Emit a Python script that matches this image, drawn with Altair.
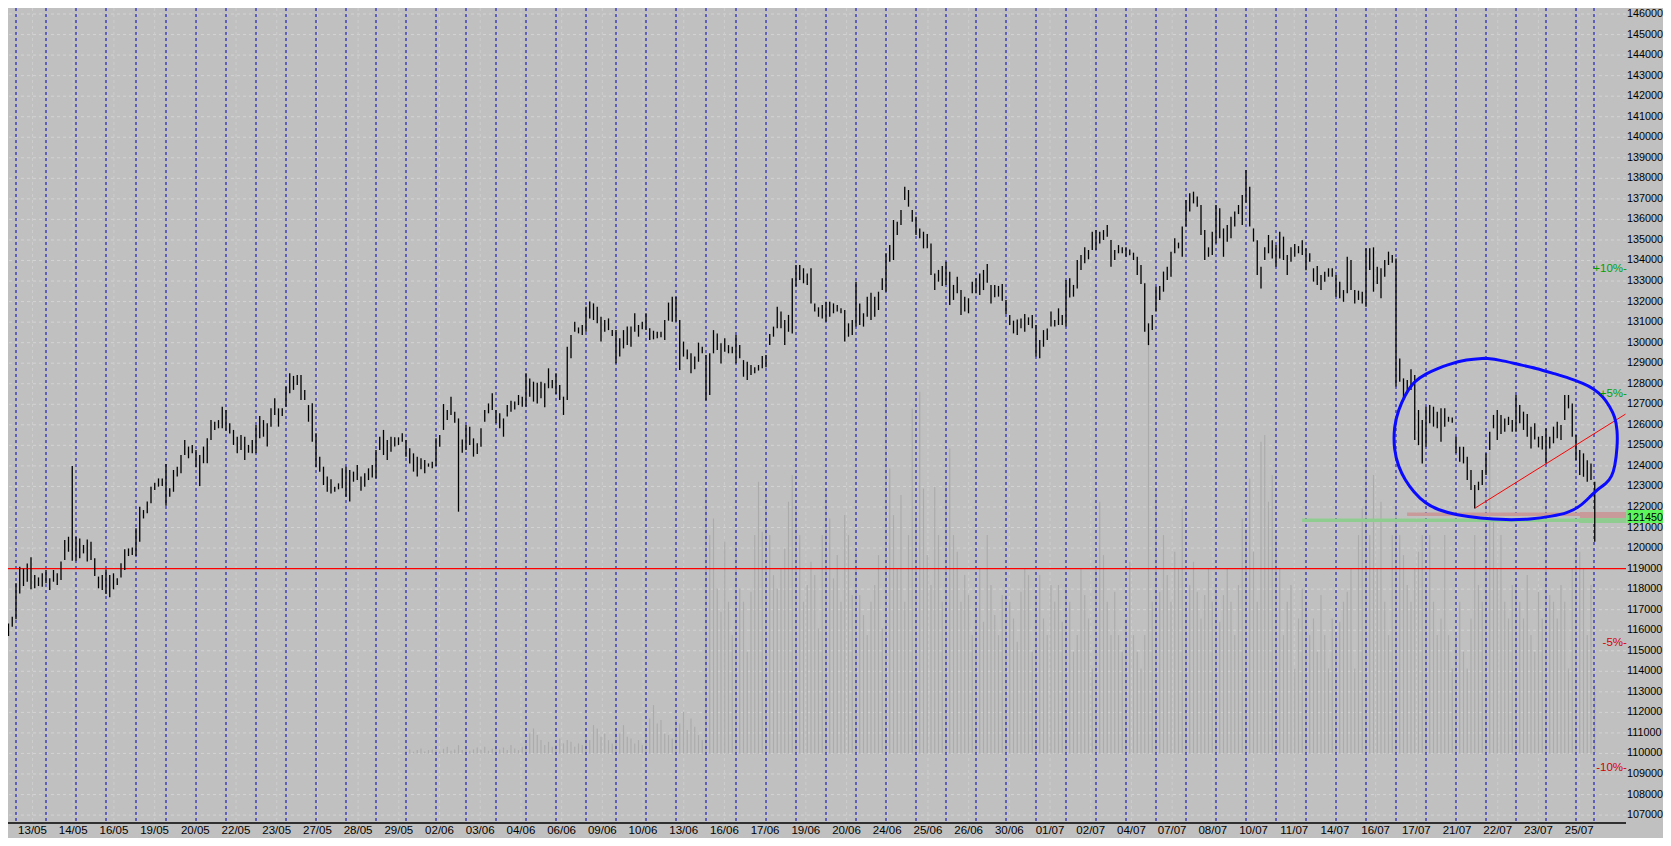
import altair as alt
import pandas as pd

# ---------------- data ----------------
# price bars (high / low), 8 bars per session, starting half a session before the 13/05 line
highs = [
    117300, 116580, 116330, 116660,
    118280, 119090, 119010, 119250, 119550, 118690, 118570, 118770,
    118930, 118530, 118930, 118770, 119340, 120390, 120550, 124000,
    120550, 120470, 120150, 120420, 120310, 119500, 118610, 118690,
    118960, 118690, 118770, 118530, 119260, 119940, 119980, 120030,
    120960, 122010, 121850, 122260, 122990, 123180, 123390, 123390,
    124090, 122910, 123800, 123960, 124530, 125260, 124940, 125020,
    124770, 124530, 124940, 125340, 126230, 126150, 126230, 126880,
    126720, 126070, 125750, 125420, 125500, 125420, 125020, 125260,
    125990, 126430, 126230, 126070, 126800, 127290, 126800, 126800,
    127860, 128510, 128380, 128430, 128430, 127700, 126960, 127050,
    125590, 124450, 123960, 123480, 123350, 122990, 123150, 123880,
    123960, 123800, 123720, 124040, 123480, 123640, 123880, 124040,
    124770, 125420, 125750, 125260, 125420, 125390, 125390, 125590,
    125260, 124860, 124610, 124450, 124370, 124290, 124120, 124200,
    125340, 125500, 127010, 126720, 127370, 126640, 126310, 125290,
    125990, 125910, 125340, 125100, 125830, 126720, 127040, 127530,
    126720, 126560, 126310, 126960, 127170, 127130, 127450, 127370,
    128510, 128260, 128100, 128050, 128100, 128020, 128750, 128180,
    128510, 127940, 127370, 129800, 130370, 131020, 130740, 130860,
    131750, 132000, 131910, 131750, 131260, 131100, 131180, 130610,
    130610, 130210, 130610, 130780, 130780, 131430, 130860, 131020,
    131430, 130700, 130580, 130530, 130530, 131100, 131950, 132240,
    132240, 131100, 130050, 129670, 129480, 129320, 130000, 129800,
    129400, 129480, 130610, 130450, 129970, 130210, 129880, 129800,
    130370, 129880, 129150, 129070, 128910, 128800, 128910, 129350,
    129400, 130420, 130780, 131750, 131510, 131100, 131350, 133130,
    133780, 133780, 133620, 133370, 133620, 131910, 131720, 131830,
    131990, 131990, 131910, 131830, 131670, 131590, 130940, 131100,
    132970, 131910, 131430, 132240, 132430, 132240, 132480, 133130,
    134350, 134750, 135970, 135890, 136460, 137590, 137430, 136460,
    136130, 135560, 135400, 135290, 134830, 133370, 133540, 133730,
    133940, 133450, 132810, 133210, 132560, 132240, 132160, 132970,
    133130, 133370, 133540, 133830, 132810, 132810, 132760, 132850,
    132080, 131340, 131070, 131130, 131180, 131390, 131230, 131340,
    130860, 130130, 130610, 130690, 131510, 131100, 131670, 131340,
    133050, 133130, 132810, 134020, 134270, 134640, 134510, 135400,
    135480, 135400, 135480, 135730, 135000, 134510, 134750, 134640,
    134640, 134540, 134380, 134180, 133780, 132890, 130940, 131340,
    132720, 132760, 133460, 133700, 134430, 135080, 134870, 135650,
    136940, 137270, 137350, 137110, 136700, 135480, 134640, 135400,
    136700, 136540, 135560, 135730, 136130, 136380, 136700, 137190,
    138400, 137590, 135560, 134990, 133700, 134640, 135240, 134990,
    134750, 135400, 135160, 134270, 134640, 134800, 134700, 134990,
    134590, 134350, 133620, 133730, 133290, 133450, 133620, 133620,
    133290, 132970, 132560, 134180, 134020, 132560, 132530, 132480,
    134590, 134590, 134640, 133700, 133620, 134020, 134430, 134270,
    134100, 129230, 128260, 128180, 128700, 128420, 126720, 126230,
    126880, 126960, 126880, 126640, 126800, 126800, 126390, 126360,
    125420, 124930, 124930, 124440, 123800, 123070, 123230, 123800,
    124610, 125660, 126480, 126720, 126480, 126310, 126390, 126230,
    127450, 126960, 126640, 126520, 125910, 126070, 125420, 125450,
    125830, 125420, 125910, 126150, 125990, 127450, 127450, 127040,
    125500, 124770, 124610, 124280, 124120, 123230,
]
lows = [
    116170, 115850, 115720, 116170,
    116530, 117790, 118150, 118360, 117990, 118040, 118150, 118120,
    118280, 117960, 118360, 118200, 118440, 119420, 119820, 119380,
    119380, 119500, 119740, 119340, 119420, 118640, 118040, 117960,
    117760, 117600, 117990, 118200, 118570, 118930, 119610, 119660,
    119610, 120310, 121440, 121690, 122180, 122830, 122990, 123020,
    122060, 122500, 122740, 123480, 123640, 124530, 124370, 124610,
    123930, 123020, 124130, 124130, 125260, 125750, 125830, 125830,
    125710, 125580, 125020, 124610, 124770, 124290, 124640, 124610,
    124610, 125340, 125420, 124940, 125910, 126480, 125910, 126430,
    126880, 127530, 127700, 127940, 127210, 127210, 126150, 125180,
    123930, 123720, 123070, 122740, 122660, 122740, 122860, 122910,
    122500, 122260, 123230, 123310, 122790, 122990, 123310, 123440,
    123390, 124770, 124530, 124290, 124690, 124940, 125020, 125180,
    124450, 124120, 123720, 123480, 123830, 123640, 123960, 123880,
    123990, 124930, 125750, 126230, 126480, 126100, 121770, 124640,
    124770, 125020, 124450, 124580, 124930, 126150, 126560, 126720,
    126070, 125830, 125420, 126400, 126640, 126750, 126960, 126880,
    126880, 127370, 127130, 127040, 127290, 126850, 127780, 127780,
    127500, 127210, 126480, 127210, 129240, 130530, 130450, 130370,
    130530, 131180, 131100, 130940, 130050, 130530, 130610, 130320,
    128990, 129320, 129720, 129880, 129800, 130530, 130290, 130650,
    130610, 130130, 130160, 130210, 130260, 130130, 131070, 131020,
    131020, 128670, 129320, 129190, 128510, 128700, 129070, 129480,
    127180, 127450, 129480, 129640, 128990, 129560, 129480, 129480,
    128990, 129240, 128340, 128180, 128420, 128510, 128640, 128750,
    128800, 129880, 130290, 130700, 130700, 129880, 130530, 130450,
    132730, 133050, 132890, 132810, 131910, 131510, 131260, 131180,
    131020, 131260, 131430, 131510, 131430, 130050, 130290, 130370,
    130780, 130860, 130780, 131260, 131100, 131260, 131590, 132560,
    132480, 133940, 134020, 135240, 135730, 136940, 136620, 135890,
    135240, 135080, 134590, 134590, 133290, 132560, 132970, 132760,
    132810, 131830, 132080, 132400, 131350, 131510, 131430, 132400,
    132400, 132320, 132560, 132920, 131910, 132210, 132240, 132040,
    131390, 130860, 130450, 130370, 130700, 130530, 130860, 130700,
    129320, 129240, 129800, 130130, 130780, 130780, 130860, 130860,
    130780, 132200, 132240, 132640, 133540, 133860, 134060, 134510,
    134510, 134830, 135000, 135160, 133700, 134020, 134350, 134350,
    134180, 134260, 134020, 133290, 132850, 130530, 129880, 130610,
    131510, 132080, 132480, 133050, 133210, 134350, 134590, 134180,
    135650, 136380, 136780, 136620, 135240, 134020, 134180, 134270,
    134830, 135080, 134180, 134910, 135080, 135650, 136260, 135730,
    136810, 135650, 134920, 133290, 132640, 134020, 134350, 134100,
    133700, 134100, 134020, 133290, 133940, 134180, 134350, 134270,
    133530, 133940, 132970, 132810, 132560, 132970, 133210, 133210,
    132240, 132160, 131990, 132400, 132560, 131910, 132080, 131910,
    131750, 133540, 132480, 132850, 132160, 133210, 133780, 133890,
    127860, 128100, 127210, 127530, 127690, 125260, 125010, 124120,
    124930, 126070, 125910, 125830, 125180, 125910, 126150, 126100,
    124610, 124200, 124120, 123310, 122820, 121930, 122820, 123070,
    123550, 124770, 125830, 125260, 125550, 125660, 125990, 125660,
    125660, 126070, 125750, 125420, 124850, 125290, 124900, 124800,
    124120, 124850, 125100, 125340, 125260, 126230, 126800, 125420,
    124280, 123550, 123470, 123230, 123310, 120310,
]
# volume (relative units), 8 per session from the 13th session on
volume = [
    8, 12, 5, 10, 15, 6, 10, 12,
    10, 6, 14, 20, 8, 12, 25, 10,
    15, 8, 12, 18, 10, 20, 8, 14,
    20, 12, 18, 10, 25, 15, 10, 20,
    30, 60, 75, 55, 40, 25, 35, 20,
    25, 45, 30, 40, 35, 20, 30, 25,
    55, 40, 85, 75, 50, 60, 40, 30,
    75, 60, 85, 50, 45, 30, 40, 25,
    70, 105, 145, 90, 100, 60, 55, 45,
    100, 90, 125, 70, 105, 80, 55, 40,
    790, 655, 705, 495, 425, 635, 455, 355,
    635, 495, 455, 305, 485, 655, 815, 665,
    795, 655, 535, 495, 555, 615, 755, 835,
    735, 655, 455, 505, 575, 535, 375, 655,
    795, 705, 525, 595, 455, 715, 655, 475,
    605, 475, 415, 355, 455, 505, 595, 375,
    1100, 855, 715, 555, 775, 455, 655, 1035,
    715, 1085, 795, 595, 505, 800, 655, 455,
    805, 915, 655, 605, 455, 535, 475, 355,
    455, 555, 395, 655, 505, 415, 355, 475,
    475, 455, 405, 335, 485, 555, 535, 305,
    475, 535, 405, 355, 505, 455, 505, 395,
    505, 455, 305, 355, 555, 475, 405, 255,
    555, 755, 595, 455, 355, 485, 355, 305,
    405, 575, 355, 305, 255, 355, 1265, 455,
    795, 485, 655, 535, 455, 605, 555, 735,
    455, 505, 575, 485, 405, 475, 555, 455,
    505, 395, 475, 555, 455, 355, 505, 705,
    675, 825, 605, 455, 935, 955, 755, 835,
    655, 555, 355, 455, 505, 255, 405, 495,
    455, 355, 405, 305, 475, 355, 255, 405,
    355, 395, 455, 485, 555, 255, 655, 735,
    885, 655, 835, 555, 755, 455, 355, 655,
    735, 655, 595, 505, 455, 555, 605, 655,
    505, 655, 455, 355, 405, 655, 355, 255,
    355, 455, 305, 255, 405, 655, 505, 455,
    805, 905, 705, 555, 655, 455, 405, 505,
    505, 455, 405, 535, 355, 305, 485, 405,
    775, 475, 455, 405, 505, 455, 255, 555,
    635, 605, 555, 355, 505, 205,
]
date_labels = ['13/05', '14/05', '16/05', '19/05', '20/05', '22/05', '23/05', '27/05',
               '28/05', '29/05', '02/06', '03/06', '04/06', '06/06', '09/06', '10/06',
               '13/06', '16/06', '17/06', '19/06', '20/06', '24/06', '25/06', '26/06',
               '30/06', '01/07', '02/07', '04/07', '07/07', '08/07', '10/07', '11/07',
               '14/07', '16/07', '17/07', '21/07', '22/07', '23/07', '25/07']
y_ticks = list(range(107000, 147000, 1000))
last_price = 121450
support = 119000
pct_levels = [0.10, 0.05, -0.05, -0.10]
pct_texts = ['+10%-', '+5%-', '-5%-', '-10%-']
# hand-drawn ellipse (session index, price)
ell_d = [48.97, 48.36, 47.69, 47.41, 47.02, 46.58, 46.30, 46.08, 45.93, 45.93, 46.08, 46.30,
         46.58, 46.97, 47.41, 48.02, 48.80, 49.69, 50.47, 51.24, 51.69, 52.13, 52.47, 52.69,
         53.02, 53.19, 53.30, 53.38, 53.38, 53.30, 53.13, 52.91, 52.58, 52.24, 51.80, 51.24,
         50.69, 50.02, 49.47, 48.97]
ell_p = [129236, 129188, 128912, 128749, 128506, 128100, 127451, 126721, 125909, 124773,
         123962, 123313, 122745, 122177, 121852, 121609, 121447, 121365, 121398, 121560,
         121690, 122014, 122501, 122826, 123150, 123475, 123962, 124936, 125747, 126396,
         126883, 127370, 127776, 128019, 128263, 128506, 128749, 128960, 129155, 129236]
trend_d = [48.63, 53.65]
trend_p = [121940, 126520]
# horizontal bands (start session, end session, low price, high price)
band_start = [46.37, 52.13, 42.87, 52.10]
band_end = [53.67, 53.67, 53.67, 53.67]
band_lo = [121560, 121450, 121270, 121220]
band_hi = [121730, 121760, 121440, 121450]
band_col = ['pink', 'pink', 'green', 'green']

# ---------------- layout ----------------
W, H = 1618, 815
PX_PER_DAY = 30.0
PX_PER_PRICE = 0.02054
X_DOM = [-8 / PX_PER_DAY, (W - 8) / PX_PER_DAY]
Y_DOM = [146000 - (H - 6) / PX_PER_PRICE, 146000 + 6 / PX_PER_PRICE]
VOL_BASE = 110000
VOL_SCALE = 16.23
FONT = 'Liberation Sans'

xs = alt.Scale(domain=X_DOM, nice=False, zero=False)
ys = alt.Scale(domain=Y_DOM, nice=False, zero=False)

bars = pd.DataFrame({'d': [(i - 4) / 8 for i in range(len(highs))], 'high': highs, 'low': lows})
vol = pd.DataFrame({'d': [13 + i / 8 for i in range(len(volume))], 'v': volume})
vol['base'] = VOL_BASE
vol['top'] = VOL_BASE + vol['v'] * VOL_SCALE
sessions = pd.DataFrame({'d': [float(k) for k in range(53)] + [52.6]})
labels = pd.DataFrame({'t': date_labels, 'd': [0.55 + 1.3567 * i for i in range(len(date_labels))]})
ticks = pd.DataFrame({'p': y_ticks, 't': [str(v) for v in y_ticks]})
ticks['d'] = X_DOM[1] + 1 / PX_PER_DAY
ell = pd.DataFrame({'d': ell_d, 'p': ell_p, 'o': list(range(len(ell_d)))})
trend = pd.DataFrame({'d': trend_d, 'p': trend_p})
bands = pd.DataFrame({'x1': band_start, 'x2': band_end, 'lo': band_lo, 'hi': band_hi, 'c': band_col})
pct = pd.DataFrame({'t': pct_texts, 'p': [last_price * (1 + v) for v in pct_levels],
                    'c': ['#00a000', '#00a000', '#d00000', '#d00000']})
pct['d'] = X_DOM[1] + 0.03
tag = pd.DataFrame({'x1': [X_DOM[1] + 0.5 / PX_PER_DAY], 'x2': [X_DOM[1] + 1.5],
                    'lo': [121220], 'hi': [121850], 'p': [last_price], 't': [str(last_price)]})
support_df = pd.DataFrame({'p': [support]})

X = lambda f: alt.X(f, scale=xs, axis=None)
Y = lambda f: alt.Y(f, scale=ys, axis=None)

hgrid = alt.Chart(ticks).mark_rule(color='#d3d3d3', strokeDash=[3, 3], strokeWidth=1).encode(
    y=Y('p:Q'))

vgrid = alt.Chart(labels).mark_rule(color='#cdcdcd', strokeDash=[3, 3], strokeWidth=1).encode(
    x=X('d:Q'))

vol_layer = alt.Chart(vol).mark_rule(color='#ababab', strokeWidth=1.2, clip=True).encode(
    x=X('d:Q'), y=Y('base:Q'), y2='top:Q')

session_lines = alt.Chart(sessions).mark_rule(color='#0000b4', strokeDash=[3, 3], strokeWidth=1,
                                              clip=True).encode(x=X('d:Q'))

band_layer = alt.Chart(bands).mark_rect(clip=True).encode(
    x=X('x1:Q'), x2='x2:Q', y=Y('lo:Q'), y2='hi:Q',
    color=alt.Color('c:N', scale=alt.Scale(domain=['pink', 'green'], range=['#c89a9a', '#8fcc8f']),
                    legend=None))

support_layer = alt.Chart(support_df).mark_rule(color='#ff0000', strokeWidth=1.2).encode(
    y=Y('p:Q'))

price_layer = alt.Chart(bars).mark_rule(color='#000000', strokeWidth=1.3, clip=True).encode(
    x=X('d:Q'), y=Y('high:Q'), y2='low:Q')

trend_layer = alt.Chart(trend).mark_line(color='#ff0000', strokeWidth=1).encode(
    x=X('d:Q'), y=Y('p:Q'))

ell_layer = alt.Chart(ell).mark_line(color='#0a0aff', strokeWidth=3, interpolate='basis').encode(
    x=X('d:Q'), y=Y('p:Q'), order='o:Q')

pct_layer = alt.Chart(pct).mark_text(align='right', baseline='middle', fontSize=11.5, font=FONT).encode(
    x=X('d:Q'), y=Y('p:Q'), text='t:N', color=alt.Color('c:N', scale=None))

ylabels = alt.Chart(ticks).mark_text(align='left', baseline='middle', fontSize=10.8, font=FONT,
                                     color='#000000').encode(
    x=X('d:Q'), y=Y('p:Q'), text='t:N')

tag_box = alt.Chart(tag).mark_rect(color='#5cf55c').encode(
    x=X('x1:Q'), x2='x2:Q', y=Y('lo:Q'), y2='hi:Q')
tag_text = alt.Chart(tag).mark_text(align='left', baseline='middle', fontSize=10.8, font=FONT,
                                    color='#000000', dx=0.5).encode(
    x=X('x1:Q'), y=Y('p:Q'), text='t:N')

date_text = alt.Chart(labels).mark_text(align='center', baseline='top', fontSize=11.5, font=FONT,
                                        color='#000000').encode(
    x=X('d:Q'), y=alt.value(H + 2), text='t:N')

bottom_line = alt.Chart(support_df).mark_rule(color='#000000', strokeWidth=1.5).encode(
    x=alt.value(0), x2=alt.value(W), y=alt.value(H))

chart = alt.layer(
    hgrid, vgrid, vol_layer, session_lines, band_layer, support_layer, price_layer,
    trend_layer, ell_layer, pct_layer, ylabels, tag_box, tag_text, date_text, bottom_line
).properties(
    width=W, height=H,
    autosize=alt.AutoSizeParams(type='none'),
    padding={'left': 0, 'top': 0, 'right': 1655 - W, 'bottom': 830 - H},
    background='#c0c0c0'
).configure_view(strokeWidth=0)

chart.save('out.html', embed_options={'renderer': 'svg', 'actions': False})
